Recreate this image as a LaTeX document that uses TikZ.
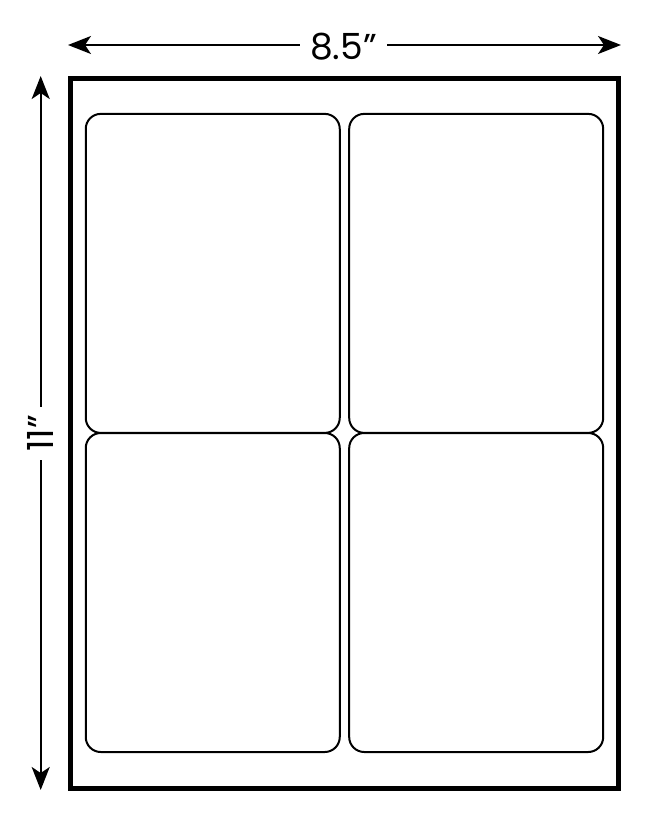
\documentclass[tikz,border=0pt]{standalone}
\usepackage{fontspec}
\setmainfont{Poppins}
\usetikzlibrary{arrows.meta}
\begin{document}
\begin{tikzpicture}[x=1pt,y=-1pt,
  sheet/.style={draw=black,line width=4.7pt,minimum width=547.5pt,minimum height=709.8pt,inner sep=0pt},
  lab/.style={draw=black,line width=2pt,rounded corners=15pt,minimum width=254pt,minimum height=319pt,inner sep=0pt},
  dimarrow/.style={line width=2pt,-{Stealth[length=23pt,width=18pt,inset=6pt]}},
  dimtext/.style={font=\fontsize{36}{40}\selectfont,inner sep=0pt}]
\useasboundingbox (0,0) rectangle (648,825);
\node[sheet] (frame) at (344.55,433.4) {};
\node[lab] (l1) at (212.75,273.4) {};
\node[lab] (l2) at (476.2,273.4) {};
\node[lab] (l3) at (212.75,592.5) {};
\node[lab] (l4) at (476.2,592.5) {};
% width dimension
\node[dimtext,minimum width=87pt,minimum height=30pt] (w) at (343.5,47) {8.5”};
\coordinate (wl) at (68,45);
\coordinate (wr) at (621,45);
\draw[dimarrow] (w.west |- wl) -- (wl);
\draw[dimarrow] (w.east |- wr) -- (wr);
% height dimension
\node[dimtext,rotate=90,minimum width=53pt,minimum height=30pt] (h) at (40.7,433.5) {11”};
\coordinate (ht) at (40.7,76);
\coordinate (hb) at (40.7,790);
\draw[dimarrow] (ht |- h.east) -- (ht);
\draw[dimarrow] (hb |- h.west) -- (hb);
\end{tikzpicture}
\end{document}
